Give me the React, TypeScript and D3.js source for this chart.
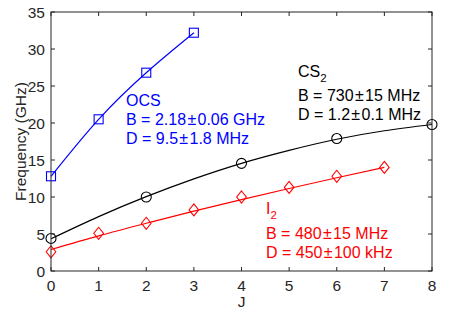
import React from 'react';
import * as d3 from 'd3';

// measured points (GHz) versus J
const ocsJ = [0, 1, 2, 3];
const ocsFreq = [12.8, 20.5, 26.8, 32.2];
const cs2J = [0, 2, 4, 6, 8];
const cs2Freq = [4.4, 10.0, 14.55, 17.9, 19.8];
const i2J = [0, 1, 2, 3, 4, 5, 6, 7];
const i2Freq = [2.6, 5.1, 6.45, 8.25, 10.0, 11.3, 12.8, 14.0];

// fitted curves at integer J
const ocsFitJ = [0, 1, 2, 3];
const ocsFit = [12.8, 20.5, 26.8, 32.2];
const cs2FitJ = [0, 1, 2, 3, 4, 5, 6, 7, 8];
const cs2Fit = [4.35, 7.35, 10.05, 12.45, 14.55, 16.3, 17.8, 18.95, 19.8];
const i2FitJ = [0, 1, 2, 3, 4, 5, 6, 7];
const i2Fit = [2.9, 4.75, 6.45, 8.1, 9.65, 11.15, 12.6, 14.0];

const xTicks = [0, 1, 2, 3, 4, 5, 6, 7, 8];
const yTicks = [0, 5, 10, 15, 20, 25, 30, 35];

const width = 463;
const height = 316;
const margin = { left: 51, right: 31, top: 12, bottom: 45 };
const font = '"Liberation Sans", Arial, Helvetica, sans-serif';
const axisColor = '#262626';
const fs = 15.5;
const pm = '\u200a\u00b1\u200a';

const x = d3.scaleLinear().domain([0, 8]).range([margin.left, width - margin.right]);
const y = d3.scaleLinear().domain([0, 35]).range([height - margin.bottom, margin.top]);

const pts = (js: number[], vs: number[]) => js.map((j, i) => [j, vs[i]] as [number, number]);

const line = d3
  .line<[number, number]>()
  .x(d => x(d[0]))
  .y(d => y(d[1]))
  .curve(d3.curveNatural);

const Square = ({ cx, cy, color }: any) => (
  <rect x={cx - 4.5} y={cy - 4.5} width={9} height={9} fill="none" stroke={color} strokeWidth={1.1} />
);
const Circle = ({ cx, cy, color }: any) => (
  <circle cx={cx} cy={cy} r={5} fill="none" stroke={color} strokeWidth={1.1} />
);
const Diamond = ({ cx, cy, color }: any) => (
  <path
    d={`M${cx},${cy - 6}L${cx + 4.8},${cy}L${cx},${cy + 6}L${cx - 4.8},${cy}Z`}
    fill="none"
    stroke={color}
    strokeWidth={1.1}
  />
);

const Label = ({ x0, color, lines }: any) => (
  <g fill={color} fontFamily={font} fontSize={16}>
    {lines.map((l: any, i: number) => (
      <text key={i} x={x0} y={l.y}>
        {l.main}
        {l.sub && (
          <tspan fontSize={11.5} dy={5}>
            {l.sub}
          </tspan>
        )}
      </text>
    ))}
  </g>
);

export default function App() {
  const x0 = x(0);
  const x1 = x(8);
  const y0 = y(0);
  const y1 = y(35);
  const tick = 4;

  return (
    <svg width={width} height={height} style={{ position: 'absolute', left: 0, top: 0, background: '#fff' }}>
      {/* fitted curves */}
      <path d={line(pts(ocsFitJ, ocsFit)) || ''} fill="none" stroke="#0000ff" strokeWidth={1.2} />
      <path d={line(pts(cs2FitJ, cs2Fit)) || ''} fill="none" stroke="#000" strokeWidth={1.2} />
      <path d={line(pts(i2FitJ, i2Fit)) || ''} fill="none" stroke="#ff0000" strokeWidth={1.2} />

      {/* markers */}
      {ocsJ.map((j, i) => (
        <Square key={'o' + i} cx={x(j)} cy={y(ocsFreq[i])} color="#0000ff" />
      ))}
      {cs2J.map((j, i) => (
        <Circle key={'c' + i} cx={x(j)} cy={y(cs2Freq[i])} color="#000" />
      ))}
      {i2J.map((j, i) => (
        <Diamond key={'i' + i} cx={x(j)} cy={y(i2Freq[i])} color="#ff0000" />
      ))}

      {/* frame and ticks */}
      <rect x={x0} y={y1} width={x1 - x0} height={y0 - y1} fill="none" stroke={axisColor} strokeWidth={1} />
      <g stroke={axisColor} strokeWidth={1}>
        {xTicks.map(t => (
          <g key={'xt' + t}>
            <line x1={x(t)} x2={x(t)} y1={y0} y2={y0 - tick} />
            <line x1={x(t)} x2={x(t)} y1={y1} y2={y1 + tick} />
          </g>
        ))}
        {yTicks.map(t => (
          <g key={'yt' + t}>
            <line x1={x0} x2={x0 + tick} y1={y(t)} y2={y(t)} />
            <line x1={x1} x2={x1 - tick} y1={y(t)} y2={y(t)} />
          </g>
        ))}
      </g>
      <g fill={axisColor} fontFamily={font} fontSize={fs}>
        {xTicks.map(t => (
          <text key={'xl' + t} x={x(t)} y={y0 + 20} textAnchor="middle">
            {t}
          </text>
        ))}
        {yTicks.map(t => (
          <text key={'yl' + t} x={x0 - 6} y={y(t) + 5.5} textAnchor="end">
            {t}
          </text>
        ))}
        <text x={(x0 + x1) / 2} y={y0 + 36} textAnchor="middle">
          J
        </text>
        <text transform={`translate(26,${(y0 + y1) / 2}) rotate(-90)`} textAnchor="middle">
          Frequency (GHz)
        </text>
      </g>

      {/* annotations */}
      <Label
        x0={126}
        color="#0000ff"
        lines={[
          { main: 'OCS', y: 106 },
          { main: `B = 2.18${pm}0.06 GHz`, y: 124.5 },
          { main: `D = 9.5${pm}1.8 MHz`, y: 143.5 },
        ]}
      />
      <Label
        x0={298}
        color="#000"
        lines={[
          { main: 'CS', sub: '2', y: 77 },
          { main: `B = 730${pm}15 MHz`, y: 101 },
          { main: `D = 1.2${pm}0.1 MHz`, y: 120 },
        ]}
      />
      <Label
        x0={266}
        color="#ff0000"
        lines={[
          { main: 'I', sub: '2', y: 214 },
          { main: `B = 480${pm}15 MHz`, y: 238.5 },
          { main: `D = 450${pm}100 kHz`, y: 257.5 },
        ]}
      />
    </svg>
  );
}
